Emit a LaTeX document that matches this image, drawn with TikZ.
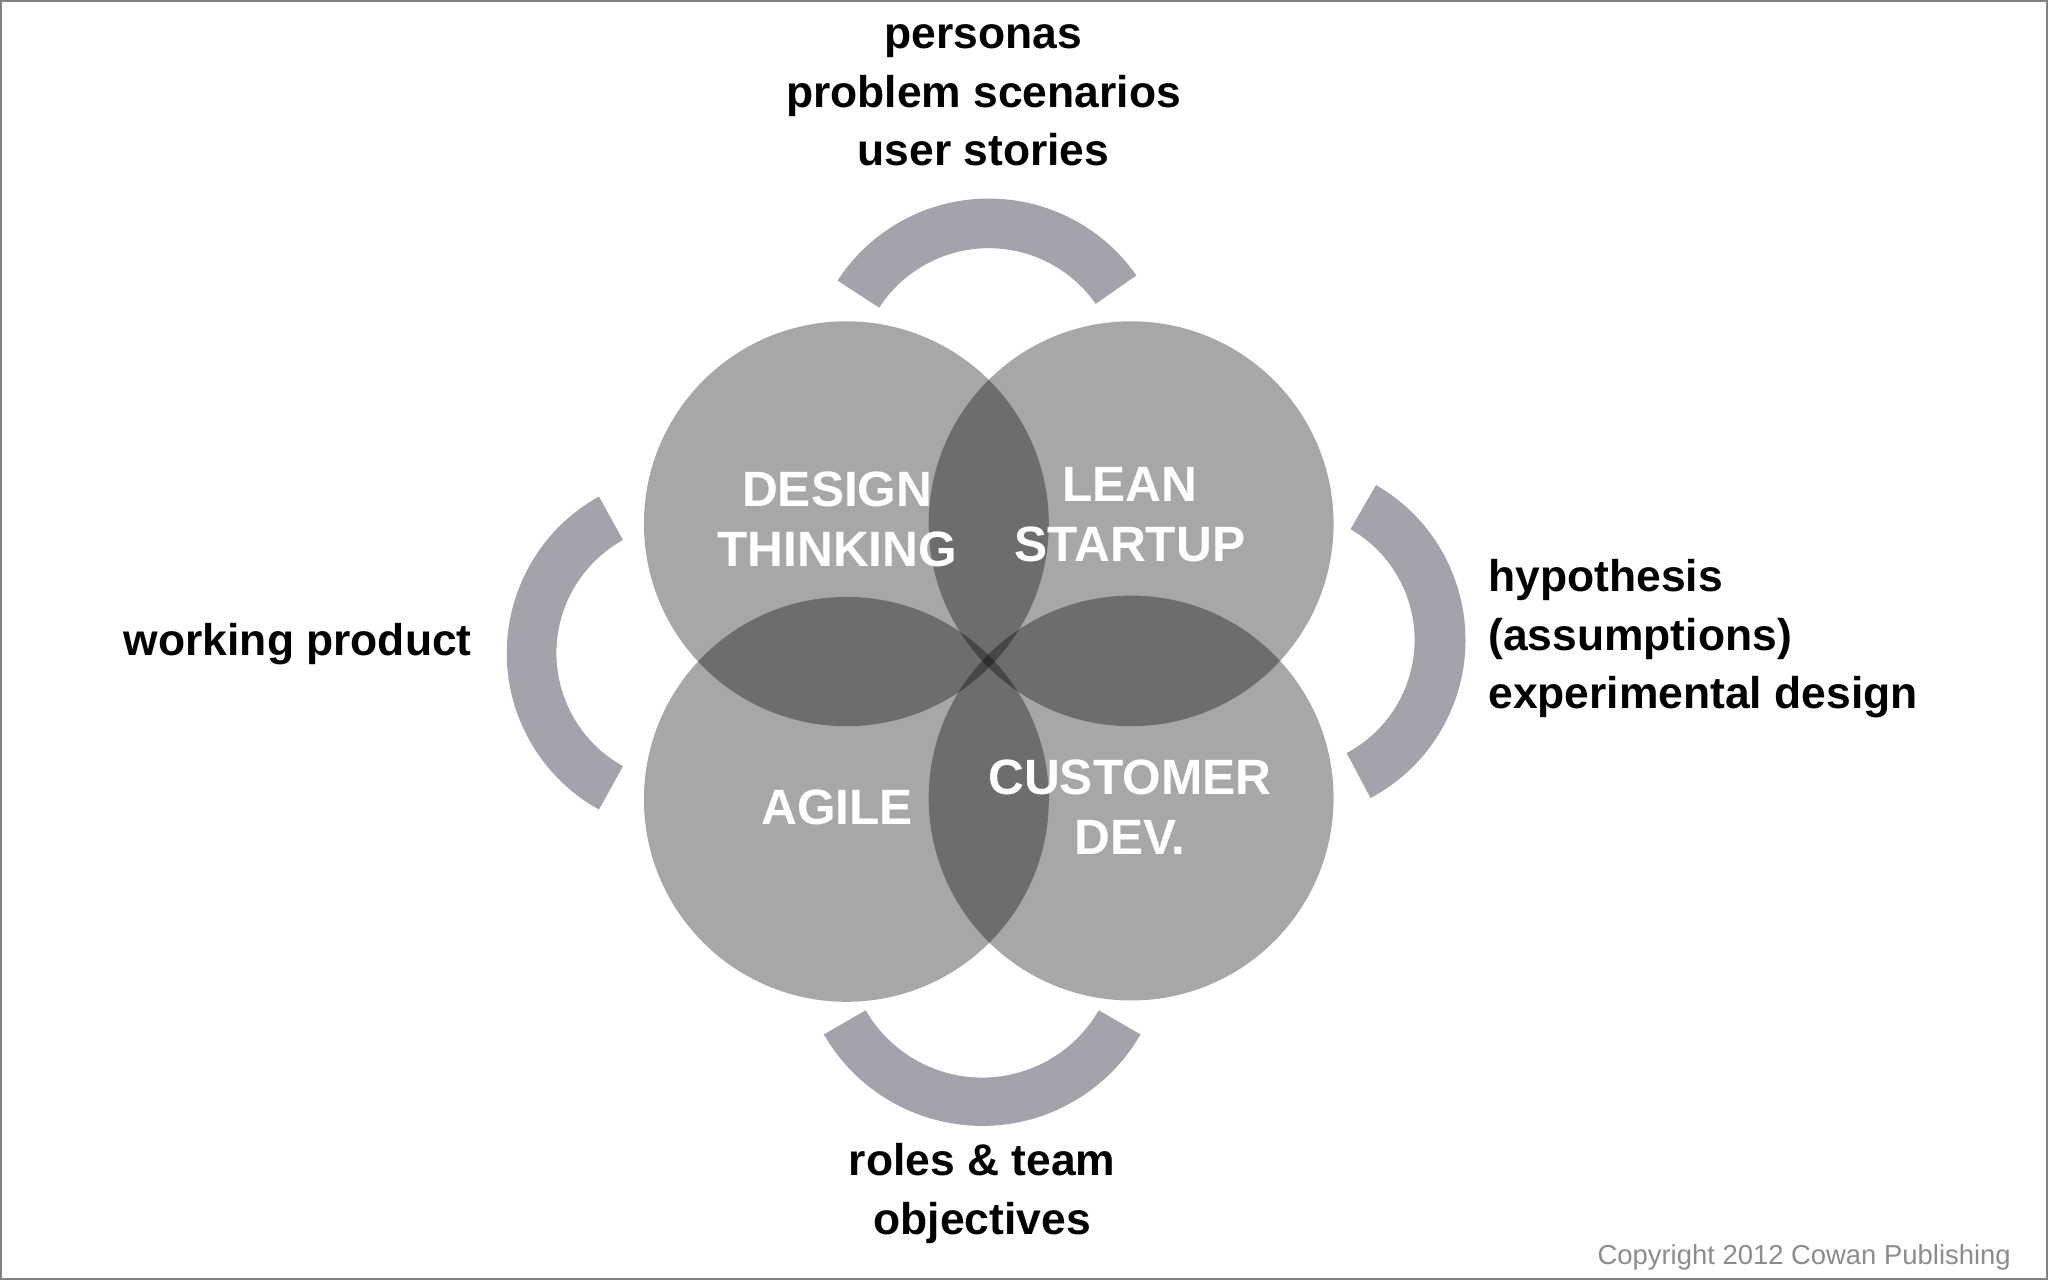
\documentclass[tikz,border=0pt]{standalone}
\usepackage{fontspec}
\setmainfont{Liberation Sans}
\begin{document}
\begin{tikzpicture}[x=1pt,y=-1pt,
  circ/.style={fill=black,fill opacity=0.345},
  arcs/.style={fill=black!34!white!97!blue},
  lbl/.style={font=\fontsize{34}{45}\selectfont\bfseries,align=center,text=black},
  wl/.style={font=\fontsize{38}{46}\selectfont\bfseries,align=center,text=white}]
\useasboundingbox (0,0) rectangle (1568,980);
\draw[black!50,line width=1.5pt] (0.75,0.75) rectangle (1567.25,979.25);
\fill[circ] (648,401) circle (155);
\fill[circ] (866,401) circle (155);
\fill[circ] (648,612) circle (155);
\fill[circ] (866,611) circle (155);
% arcs (y flipped: angles measured with y down, so negate)
\fill[arcs] (757,290) ++(-147:138) arc[start angle=-147,end angle=-35,radius=138] -- ++(-35:-38) arc[start angle=-35,end angle=-147,radius=100] -- cycle;
\fill[arcs] (985,490) ++(-60:137) arc[start angle=-60,end angle=62,radius=137] -- ++(62:-39) arc[start angle=62,end angle=-60,radius=98] -- cycle;
\fill[arcs] (525,500) ++(-119:137) arc[start angle=-119,end angle=-241,radius=137] -- ++(-241:-38) arc[start angle=-241,end angle=-119,radius=99] -- cycle;
\fill[arcs] (752,722) ++(150:140) arc[start angle=150,end angle=30,radius=140] -- ++(30:-37) arc[start angle=30,end angle=150,radius=103] -- cycle;
\node[wl] (dt) at (641,398) {DESIGN\\THINKING};
\node[wl] (ls) at (865,394) {LEAN\\STARTUP};
\node[wl] (ag) at (641,618) {AGILE};
\node[wl] (cd) at (865,618) {CUSTOMER\\DEV.};
\node[lbl] (top) at (753,73) {personas\\problem scenarios\\user stories};
\node[lbl,align=left,anchor=west] (right) at (1136,489) {hypothesis\\(assumptions)\\experimental design};
\node[lbl] (left) at (228,493) {working product};
\node[lbl] (bot) at (752,914) {roles \& team\\objectives};
\node[font=\fontsize{21}{24}\selectfont,text=black!45,anchor=east] (cp) at (1543,963) {Copyright 2012 Cowan Publishing};
\end{tikzpicture}
\end{document}
